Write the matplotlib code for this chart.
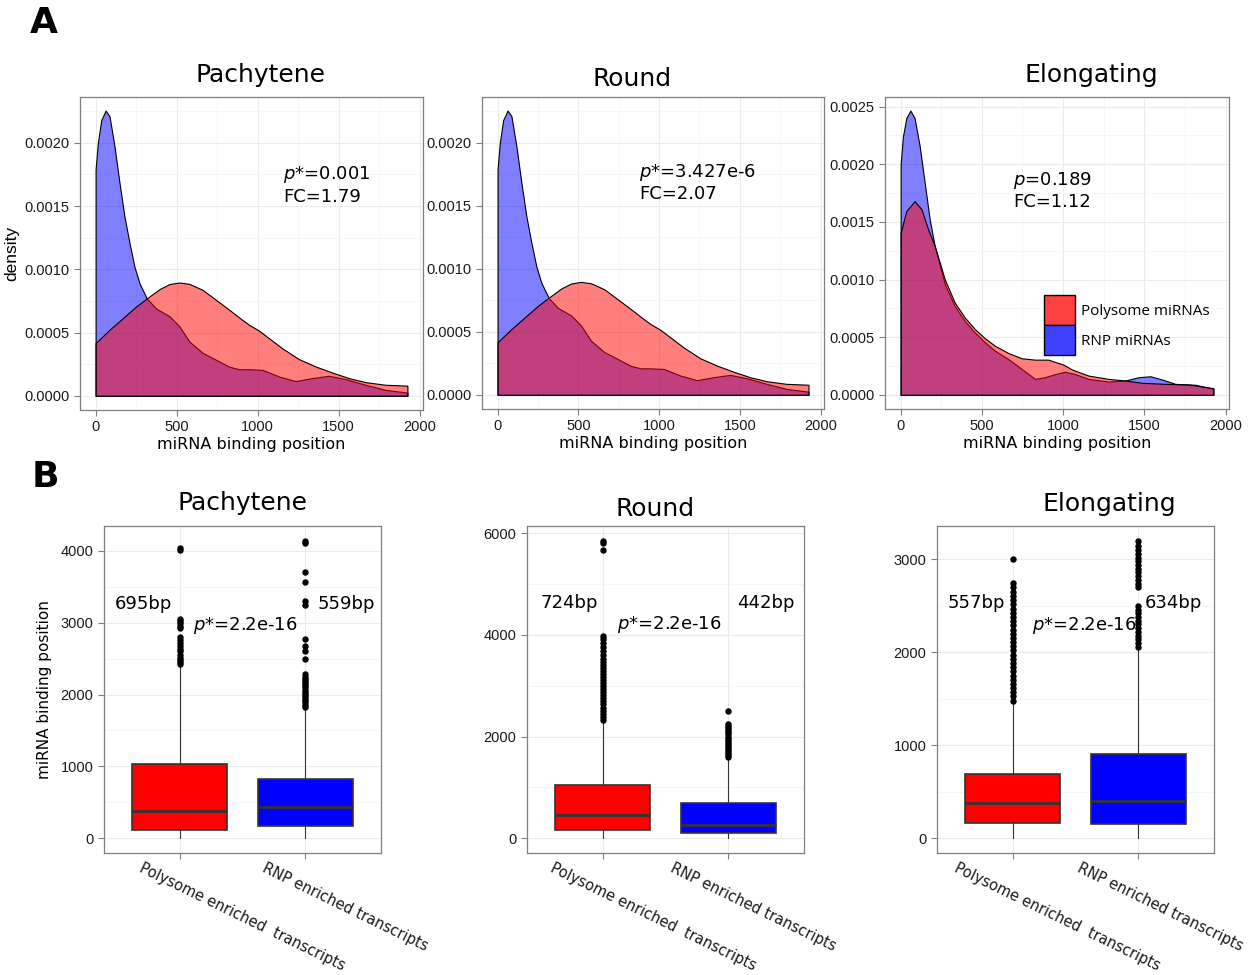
import numpy as np
import matplotlib
matplotlib.use("Agg")
import matplotlib.pyplot as plt
from matplotlib.patches import Patch
from matplotlib.ticker import MultipleLocator, FormatStrFormatter
from matplotlib.transforms import ScaledTranslation

# density curves (x = miRNA binding position, y = density)
pach_red_x = [0, 86, 168, 250, 316, 394, 455, 517, 578, 660, 743, 825, 906, 948, 1009, 1050, 1153, 1255, 1358, 1460,
              1563, 1666, 1789, 1925]
pach_red_y = [0.000417, 0.000522, 0.000614, 0.000706, 0.00077, 0.000843, 0.000883, 0.000896, 0.000885, 0.000838,
              0.000759, 0.00068, 0.0006, 0.000561, 0.000515, 0.000475, 0.000375, 0.00029, 0.000232, 0.000184,
              0.00014, 0.000108, 0.000087, 0.00008]
pach_blue_x = [0, 14, 35, 62, 86, 117, 148, 178, 209, 240, 271, 316, 373, 455, 517, 578, 660, 743, 825, 886, 948,
               1030, 1132, 1235, 1337, 1440, 1543, 1666, 1789, 1925]
pach_blue_y = [0.00179, 0.002, 0.00218, 0.002255, 0.00221, 0.00197, 0.00168, 0.00142, 0.00121, 0.00102, 0.00089,
               0.00077, 0.00069, 0.00063, 0.00055, 0.00043, 0.00034, 0.000285, 0.00023, 0.00021, 0.00021, 0.000205,
               0.000153, 0.000116, 0.00014, 0.000158, 0.000132, 0.000087, 0.000047, 0.000025]

round_red_x = [0, 86, 168, 250, 316, 394, 455, 517, 578, 660, 743, 825, 906, 948, 1009, 1050, 1153, 1255, 1358, 1460,
               1563, 1666, 1789, 1925]
round_red_y = [0.000417, 0.000522, 0.000614, 0.000706, 0.00077, 0.000843, 0.000883, 0.000896, 0.000885, 0.000838,
               0.000759, 0.00068, 0.0006, 0.000561, 0.000515, 0.000475, 0.000375, 0.00029, 0.000232, 0.000184,
               0.00014, 0.000108, 0.000087, 0.00008]
round_blue_x = [0, 14, 35, 62, 86, 117, 148, 178, 209, 240, 271, 316, 373, 455, 517, 578, 660, 743, 825, 886, 948,
                1030, 1132, 1235, 1337, 1440, 1543, 1666, 1789, 1925]
round_blue_y = [0.00179, 0.002, 0.00218, 0.002255, 0.00221, 0.00197, 0.00168, 0.00142, 0.00121, 0.00102, 0.00089,
                0.00077, 0.00069, 0.00063, 0.00055, 0.00043, 0.00034, 0.000285, 0.00023, 0.00021, 0.00021, 0.000205,
                0.000153, 0.000116, 0.00014, 0.000158, 0.000132, 0.000087, 0.000047, 0.000025]

elong_red_x = [0, 35, 86, 128, 169, 210, 272, 333, 395, 457, 519, 580, 662, 745, 827, 909, 951, 1002, 1054, 1156,
               1280, 1383, 1486, 1630, 1774, 1925]
elong_red_y = [0.001407, 0.001594, 0.00168, 0.00161, 0.001436, 0.00129, 0.001, 0.0008, 0.00067, 0.00057, 0.00049,
               0.000426, 0.000363, 0.000317, 0.000305, 0.000305, 0.000285, 0.000262, 0.00022, 0.000167, 0.000138,
               0.000124, 0.000104, 0.000095, 0.000089, 0.000058]
elong_blue_x = [0, 14, 35, 60, 86, 117, 148, 179, 210, 272, 333, 395, 457, 519, 580, 662, 745, 827, 889, 951, 1012,
                1074, 1156, 1280, 1383, 1465, 1537, 1609, 1691, 1815, 1925]
elong_blue_y = [0.002, 0.00224, 0.0024, 0.002465, 0.0024, 0.00216, 0.00184, 0.00152, 0.00129, 0.00096, 0.00077,
                0.00064, 0.00054, 0.000456, 0.000383, 0.000311, 0.000225, 0.000138, 0.000153, 0.00018, 0.0002,
                0.00018, 0.000138, 0.000115, 0.000124, 0.000153, 0.000161, 0.000133, 0.000095, 0.000087, 0.000052]

density_stats = [["p*=0.001", "FC=1.79"], ["p*=3.427e-6", "FC=2.07"], ["p=0.189", "FC=1.12"]]
stages = ["Pachytene", "Round", "Elongating"]

# boxplot summaries: q1, median, q3, whisker low, whisker high
box_labels = ["Polysome enriched  transcripts", "RNP enriched transcripts"]
pach_poly = [111, 375, 1028, 0, 2400]
pach_rnp = [167, 430, 820, 0, 1800]
round_poly = [157, 451, 1039, 0, 2300]
round_rnp = [98, 255, 686, 0, 1560]
elong_poly = [161, 375, 686, 0, 1460]
elong_rnp = [150, 396, 911, 0, 2030]

pach_poly_out = [2420, 2450, 2480, 2510, 2550, 2600, 2640, 2680, 2720, 2760, 2800, 2920, 2960, 3000, 3030, 3050, 4010, 4040]
pach_rnp_out = [1830, 1860, 1890, 1920, 1950, 1980, 2010, 2040, 2070, 2100, 2130, 2160, 2190, 2220, 2250, 2280,
                2500, 2600, 2680, 2770, 3250, 3300, 3570, 3700, 4110, 4140]
round_poly_out = [2330, 2390, 2450, 2510, 2570, 2630, 2690, 2750, 2810, 2870, 2930, 2990, 3050, 3110, 3170, 3230, 3290,
                  3350, 3410, 3470, 3530, 3600, 3680, 3760, 3840, 3910, 3980, 5660, 5800, 5850]
round_rnp_out = [1600, 1640, 1680, 1720, 1760, 1800, 1840, 1880, 1920, 1960, 2000, 2040, 2080, 2120, 2160, 2200, 2250, 2500]
elong_poly_out = [1480, 1525, 1570, 1615, 1660, 1705, 1750, 1795, 1840, 1885, 1930, 1975, 2020, 2065, 2110, 2155, 2200,
                  2245, 2290, 2335, 2380, 2425, 2470, 2515, 2560, 2605, 2650, 2700, 2750, 3000]
elong_rnp_out = [2060, 2100, 2140, 2180, 2220, 2260, 2300, 2340, 2380, 2420, 2460, 2500, 2700, 2740, 2780, 2820, 2860,
                 2900, 2940, 2980, 3020, 3060, 3100, 3140, 3200]

mean_bp = [["695bp", "559bp"], ["724bp", "442bp"], ["557bp", "634bp"]]

W, H = 1250, 975
fig = plt.figure(figsize=(W / 100, H / 100), dpi=100)

plt.rcParams['mathtext.fontset'] = 'dejavusans'
tickfont = 'Liberation Sans'
border = '#7f7f7f'


def px(x0, y0, x1, y1):
    return [x0 / W, 1 - y1 / H, (x1 - x0) / W, (y1 - y0) / H]


def style(ax):
    for s in ax.spines.values():
        s.set_color(border)
        s.set_linewidth(0.9)
    ax.set_facecolor('white')
    ax.grid(which='major', color='#ebebeb', linewidth=0.8)
    ax.grid(which='minor', color='#f5f5f5', linewidth=0.6)
    ax.set_axisbelow(True)
    ax.tick_params(which='major', direction='out', length=4, color=border, labelsize=10.5, labelcolor='#1a1a1a')
    ax.tick_params(which='minor', length=0)
    for lab in ax.get_xticklabels() + ax.get_yticklabels():
        lab.set_fontfamily(tickfont)


# ---- A: density plots ----
top_boxes = [px(80, 97, 423, 410), px(482, 97, 824, 409), px(885, 97, 1229, 409)]
dens = [(pach_red_x, pach_red_y, pach_blue_x, pach_blue_y),
        (round_red_x, round_red_y, round_blue_x, round_blue_y),
        (elong_red_x, elong_red_y, elong_blue_x, elong_blue_y)]
ylims = [(-0.0001125, 0.0023625), (-0.0001125, 0.0023625), (-0.000123, 0.002583)]
text_pos = [(1157, 0.00175, 0.00157), (877, 0.00176, 0.00159), (691, 0.00186, 0.00167)]
title_px = [(261, 75), (632, 79), (1091, 75)]

for i in range(3):
    ax = fig.add_axes(top_boxes[i])
    rx, ry, bx, by = dens[i]
    ax.fill_between(bx, by, 0, facecolor=(0, 0, 1, 0.5), edgecolor='black', linewidth=0.8)
    ax.fill_between(rx, ry, 0, facecolor=(1, 0, 0, 0.5), edgecolor='black', linewidth=0.8)
    ax.set_xlim(-96.25, 2021.25)
    ax.set_ylim(*ylims[i])
    ax.xaxis.set_major_locator(MultipleLocator(500))
    ax.xaxis.set_minor_locator(MultipleLocator(250))
    ax.yaxis.set_major_locator(MultipleLocator(0.0005))
    ax.yaxis.set_minor_locator(MultipleLocator(0.00025))
    ax.yaxis.set_major_formatter(FormatStrFormatter('%.4f'))
    style(ax)
    ax.set_xlabel("miRNA binding position", fontsize=11.5, labelpad=2)
    if i == 0:
        ax.set_ylabel("density", fontsize=12.5, family=tickfont, labelpad=4)
    p_txt, fc_txt = density_stats[i]
    p_txt = "$\\it{p}$" + p_txt[1:]
    tx, ty1, ty2 = text_pos[i]
    ax.text(tx, ty1, p_txt, fontsize=13, va='center', ha='left')
    ax.text(tx, ty2, fc_txt, fontsize=13, va='center', ha='left')
    fig.text(title_px[i][0] / W, 1 - title_px[i][1] / H, stages[i], fontsize=18, ha='center', va='center')
    if i == 2:
        handles = [Patch(facecolor='#ff4040', edgecolor='black', linewidth=1),
                   Patch(facecolor='#4040ff', edgecolor='black', linewidth=1)]
        leg = ax.legend(handles, ["Polysome miRNAs", "RNP miRNAs"], loc='upper left',
                        bbox_to_anchor=(1044 / W, 1 - 295 / H), bbox_transform=fig.transFigure,
                        frameon=False, borderpad=0, borderaxespad=0, labelspacing=0.0,
                        handlelength=2.0, handleheight=2.64, handletextpad=0.4,
                        prop={'family': 'Open Sans', 'size': 11})

# ---- B: boxplots ----
bot_boxes = [px(104, 526, 381, 853), px(527, 526, 804, 853), px(937, 526, 1214, 853)]
box_stats = [(pach_poly, pach_rnp, pach_poly_out, pach_rnp_out),
             (round_poly, round_rnp, round_poly_out, round_rnp_out),
             (elong_poly, elong_rnp, elong_poly_out, elong_rnp_out)]
box_ylims = [(-207, 4347), (-292, 6142), (-160, 3360)]
box_major = [1000, 2000, 1000]
box_text = [(0.484, 3264, 1.103, 2958, 2.095), (0.504, 4627, 1.112, 4196, 2.072), (0.484, 2529, 1.151, 2293, 2.048)]
box_title_px = [(242, 503), (655, 509), (1109, 504)]
label_shift = [(-36, -39), (-48, -54), (-54, -57)]
box_colors = ['#ff0000', '#0000ff']

for i in range(3):
    ax = fig.add_axes(bot_boxes[i])
    poly, rnp, poly_out, rnp_out = box_stats[i]
    stats = []
    for s, out, lab in [(poly, poly_out, box_labels[0]), (rnp, rnp_out, box_labels[1])]:
        stats.append({'q1': s[0], 'med': s[1], 'q3': s[2], 'whislo': s[3], 'whishi': s[4],
                      'fliers': out, 'label': lab})
    bp = ax.bxp(stats, positions=[1, 2], widths=0.75, patch_artist=True, showcaps=False,
                boxprops=dict(edgecolor='#333333', linewidth=1.2),
                medianprops=dict(color='#333333', linewidth=2),
                whiskerprops=dict(color='#333333', linewidth=0.8),
                flierprops=dict(marker='o', markerfacecolor='black', markeredgecolor='black', markersize=3.6))
    for patch, c in zip(bp['boxes'], box_colors):
        patch.set_facecolor(c)
        patch.set_zorder(2)
    ax.set_xlim(0.4, 2.6)
    ax.set_ylim(*box_ylims[i])
    ax.yaxis.set_major_locator(MultipleLocator(box_major[i]))
    ax.yaxis.set_minor_locator(MultipleLocator(box_major[i] / 2))
    style(ax)
    ax.set_xticks([1, 2])
    ax.set_xticklabels(box_labels, rotation=-26, ha='left', va='top', rotation_mode='anchor',
                       fontsize=10.5, family='DejaVu Sans', color='#1a1a1a')
    for lab, dx in zip(ax.get_xticklabels(), label_shift[i]):
        off = ScaledTranslation(dx / 100, 3 / 100, fig.dpi_scale_trans)
        lab.set_transform(lab.get_transform() + off)
    if i == 0:
        ax.set_ylabel("miRNA binding position", fontsize=11, labelpad=6)
    x1, y1, x2, y2, x3 = box_text[i]
    ax.text(x1, y1, mean_bp[i][0], fontsize=13, va='center', ha='left')
    ax.text(x2, y2, "$\\it{p}$*=2.2e-16", fontsize=13, va='center', ha='left')
    ax.text(x3, y1, mean_bp[i][1], fontsize=13, va='center', ha='left')
    fig.text(box_title_px[i][0] / W, 1 - box_title_px[i][1] / H, stages[i], fontsize=18, ha='center', va='center')

fig.text(30 / W, 1 - 23 / H, "A", fontsize=26, fontweight='bold', ha='left', va='center')
fig.text(32 / W, 1 - 477 / H, "B", fontsize=26, fontweight='bold', ha='left', va='center')

fig.savefig("out.png", dpi=100, facecolor='white')
